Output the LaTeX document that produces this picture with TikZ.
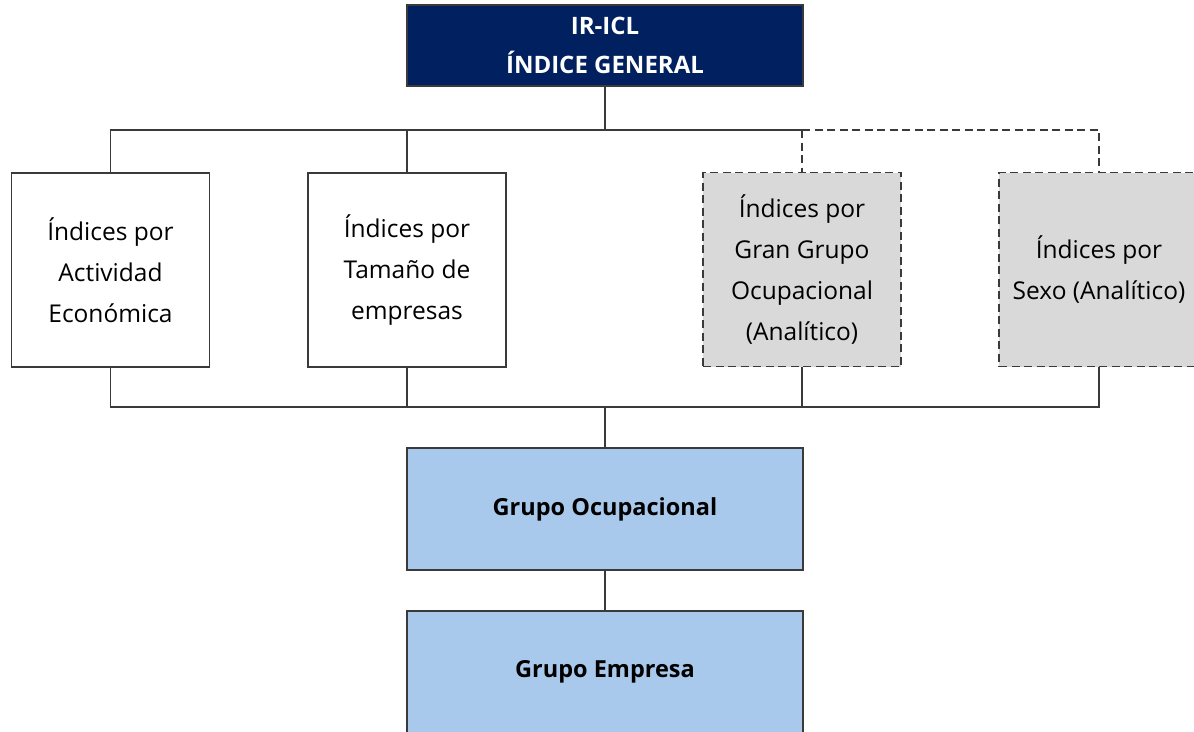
\documentclass[tikz,border=0pt]{standalone}
\usepackage{fontspec}
\setmainfont{Open Sans}
\definecolor{navy}{HTML}{002060}
\definecolor{lblue}{HTML}{A8C9EB}
\definecolor{lgray}{HTML}{D9D9D9}
\definecolor{edge}{HTML}{3A3A3A}
\begin{document}
\begin{tikzpicture}[x=1pt,y=-1pt,
  conn/.style={draw=edge, line width=1.5pt},
  txt/.style={font=\fontsize{24.5}{41}\selectfont, align=center, inner sep=0pt},
  plainbox/.style={txt, draw=edge, line width=1.5pt, fill=white, minimum width=198pt, minimum height=194pt},
  anabox/.style={plainbox, fill=lgray, line width=1.9pt, dash pattern=on 8pt off 4.5pt},
  topbox/.style={draw=edge, line width=1.5pt, fill=navy, text=white, align=center, inner sep=0pt,
     font=\fontsize{24}{39}\selectfont\bfseries, minimum width=396pt, minimum height=81pt},
  grpbox/.style={draw=edge, line width=1.5pt, fill=lblue, align=center, inner sep=0pt,
     font=\fontsize{23.5}{39}\selectfont\bfseries, minimum width=396pt, minimum height=122pt},
  dsh/.style={conn, line width=1.9pt, dash pattern=on 8pt off 4.5pt}]
\useasboundingbox (0,0) rectangle (1194,731);
\clip (0,0) rectangle (1194,731);

\node[topbox] (top) at (605,45.5) {IR-ICL\\ÍNDICE GENERAL};
\node[plainbox] (a) at (110.5,270) {Índices por\\Actividad\\Económica};
\node[plainbox] (b) at (407,270) {\raisebox{-2pt}{\parbox{190pt}{\centering Índices por\\Tamaño de\\empresas}}};
\node[anabox] (c) at (802,269.5) {Índices por\\Gran Grupo\\Ocupacional\\(Analítico)};
\node[anabox, minimum width=200pt] (d) at (1099,269.5) {Índices por\\Sexo (Analítico)};
\node[grpbox] (go) at (605,509) {Grupo Ocupacional};
\node[grpbox] (ge) at (605,672) {Grupo Empresa};

\coordinate (busT) at (605,130);
\coordinate (busB) at (605,407);

\draw[conn] (top.south) -- (busT);
\draw[conn] (a.north) -- (a.north |- busT) -- (c.north |- busT);
\draw[conn] (b.north) -- (b.north |- busT);
\draw[dsh] (c.north |- busT) -- (c.north);
\draw[dsh] (c.north |- busT) -- (d.north |- busT) -- (d.north);

\draw[conn] (a.south) -- (a.south |- busB) -- (d.south |- busB) -- (d.south);
\draw[conn] (b.south) -- (b.south |- busB);
\draw[conn] (c.south) -- (c.south |- busB);
\draw[conn] (busB) -- (go.north);
\draw[conn] (go.south) -- (ge.north);
\end{tikzpicture}
\end{document}
